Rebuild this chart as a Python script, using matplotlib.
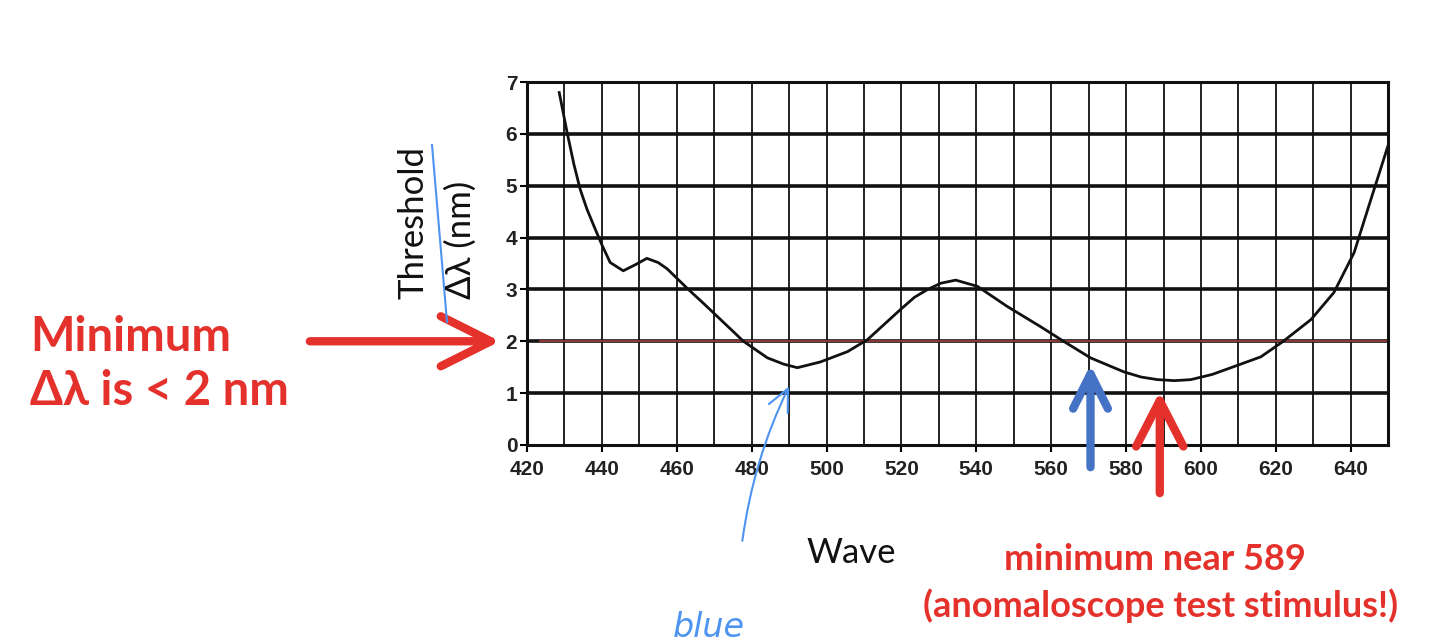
import matplotlib
matplotlib.use("Agg")
import matplotlib.pyplot as plt

# wavelength discrimination curve
wave = [428.6, 430.7, 432.5, 434.2, 436.0, 438.0, 440.0, 442.2, 445.7, 449.0,
        452.0, 455.0, 457.4, 462.8, 467.0, 470.8, 477.8, 484.2, 488.5, 492.2,
        498.3, 505.6, 510.9, 515.0, 519.7, 523.5, 527.0, 530.5, 534.5, 540.3,
        548.3, 557.2, 563.3, 570.5, 579.4, 584.0, 588.4, 593.0, 597.3, 603.0,
        608.0, 616.0, 622.0, 629.4, 635.5, 640.9, 645.4, 649.9]
threshold = [6.80, 6.03, 5.42, 4.93, 4.55, 4.20, 3.86, 3.52, 3.36, 3.48,
             3.60, 3.52, 3.40, 3.02, 2.74, 2.48, 2.00, 1.68, 1.56, 1.49,
             1.60, 1.80, 2.03, 2.30, 2.61, 2.85, 3.00, 3.12, 3.18, 3.06,
             2.67, 2.28, 2.00, 1.68, 1.41, 1.31, 1.26, 1.24, 1.26, 1.36,
             1.49, 1.70, 2.00, 2.42, 2.94, 3.71, 4.74, 5.76]

x_ticks = list(range(420, 641, 20))
y_ticks = list(range(0, 8))
ref_level = 2.0
blue_mark = 570.5
red_mark = 589.0

RED = "#E5312B"
BLUE_ARROW = "#4472C4"
PEN_BLUE = "#4D94F0"

fig = plt.figure(figsize=(14.4, 6.42), dpi=100)
ax = fig.add_axes([0.366, 0.307, 0.598, 0.565])

ax.set_xlim(420, 650)
ax.set_ylim(0, 7)

# scanned graph-paper grid
for xv in range(430, 650, 10):
    ax.axvline(xv, color="#222222", lw=1.4, zorder=1)
for yv in range(1, 7):
    ax.axhline(yv, color="#111111", lw=2.6, zorder=1)
for s in ax.spines.values():
    s.set_linewidth(2.2)
    s.set_color("#111111")

ax.plot([423.5, 650], [ref_level, ref_level], color="#9B3A3A", lw=1.3, zorder=2)
ax.plot(wave, threshold, color="#111111", lw=2.0, zorder=3)

tick_font = ["Liberation Sans Narrow", "Liberation Sans", "DejaVu Sans"]
ax.set_xticks(x_ticks)
ax.set_xticklabels([str(v) for v in x_ticks], fontsize=15, family=tick_font,
                   fontweight="bold", color="#222222")
ax.set_yticks(y_ticks)
ax.set_yticklabels([str(v) for v in y_ticks], fontsize=15, family=tick_font,
                   fontweight="bold", color="#222222")
ax.tick_params(axis="x", length=5, width=1.5, pad=6)
ax.tick_params(axis="y", length=5, width=1.5, pad=2)

# y-axis label written as two lines
fig.text(0.287, 0.654, "Threshold", rotation=90, ha="center", va="center",
         fontsize=25, family="Lato", color="#111111")
fig.text(0.320, 0.626, "Δλ (nm)", rotation=90, ha="center", va="center",
         fontsize=25, family="Lato", color="#111111")
fig.add_artist(plt.Line2D([432 / 1440, 447 / 1440], [1 - 145 / 642, 1 - 322 / 642],
                          color=PEN_BLUE, lw=1.5))

fig.text(0.591, 0.138, "Wave", ha="center", va="center", fontsize=25,
         family="Lato", color="#111111")

# left callout
fig.text(0.021, 0.433, "Minimum\nΔλ is < 2 nm", ha="left", va="center",
         fontsize=34, family="Lato", fontweight="bold", color=RED,
         linespacing=1.3)
ax.annotate("", xy=(412.8, ref_level), xytext=(362, ref_level),
            annotation_clip=False,
            arrowprops=dict(arrowstyle="->,head_length=3.6,head_width=1.8",
                            color=RED, lw=6, shrinkA=0, shrinkB=0))

# arrows under the curve
ax.annotate("", xy=(blue_mark, 1.55), xytext=(blue_mark, -0.43),
            annotation_clip=False,
            arrowprops=dict(arrowstyle="->,head_length=2.5,head_width=1.25",
                            color=BLUE_ARROW, lw=6, shrinkA=0, shrinkB=0))
ax.annotate("", xy=(red_mark, 1.03), xytext=(red_mark, -0.93),
            annotation_clip=False,
            arrowprops=dict(arrowstyle="->,head_length=3.3,head_width=1.7",
                            color=RED, lw=6, shrinkA=0, shrinkB=0))

fig.text(0.802, 0.128, "minimum near 589", ha="center", va="center",
         fontsize=26, family="Lato", fontweight="bold", color=RED)
fig.text(0.806, 0.057, "(anomaloscope test stimulus!)", ha="center", va="center",
         fontsize=26, family="Lato", fontweight="bold", color=RED)

# hand-drawn blue pointer to the short-wave minimum
ax.annotate("", xy=(490.0, 1.13), xytext=(477.5, -1.85),
            annotation_clip=False,
            arrowprops=dict(arrowstyle="->,head_length=1.6,head_width=0.75",
                            color=PEN_BLUE, lw=1.5, shrinkA=0, shrinkB=0,
                            connectionstyle="arc3,rad=-0.08"))
fig.text(0.492, 0.008, "blue", ha="center", va="baseline", fontsize=24,
         family="DejaVu Sans", fontstyle="italic", color=PEN_BLUE,
         fontweight="light")

fig.savefig("out.png", dpi=100)
